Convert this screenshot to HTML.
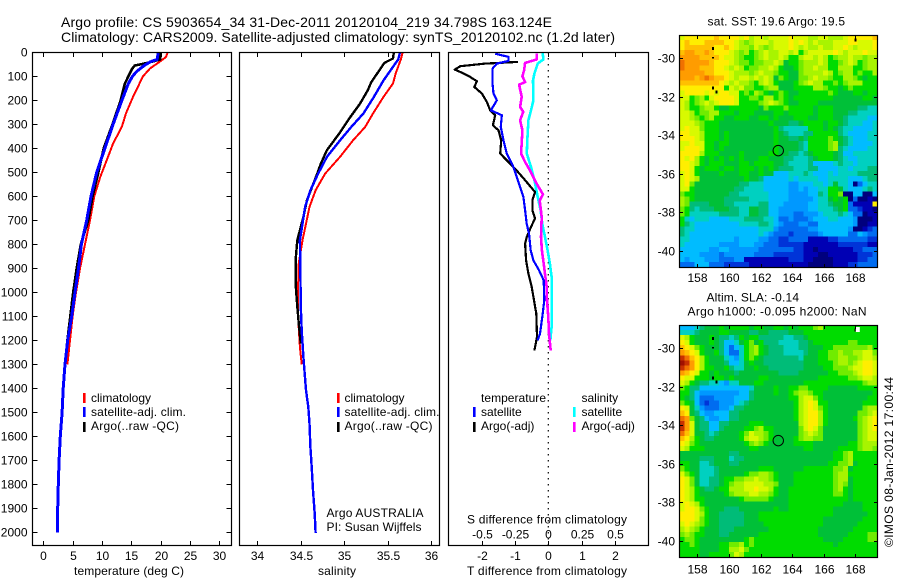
<!DOCTYPE html>
<html>
<head>
<meta charset="utf-8">
<title>Argo profile</title>
<style>
html,body{margin:0;padding:0;background:#fff;width:900px;height:580px;overflow:hidden}
svg{display:block}
text{font-family:"Liberation Sans",sans-serif;font-size:12px;fill:#000}
</style>
</head>
<body>
<svg id="chart" xmlns="http://www.w3.org/2000/svg" width="900" height="580" viewBox="0 0 900 580">
<rect width="900" height="580" fill="#fff"/>
<g id="maps"></g>
<g id="lines"></g>
<g id="axes"></g>
<text x="61" y="27" style="font-size:14px" textLength="491">Argo profile: CS 5903654_34 31-Dec-2011 20120104_219 34.798S 163.124E</text>
<text x="61" y="42" style="font-size:14px" textLength="554">Climatology: CARS2009. Satellite-adjusted climatology: synTS_20120102.nc (1.2d later)</text>
<text x="74" y="575" textLength="110">temperature (deg C)</text>
<text x="318" y="575" textLength="38">salinity</text>
<text x="467" y="575" textLength="160">T difference from climatology</text>
<text x="467" y="523.5" textLength="160">S difference from climatology</text>
<text x="91" y="402">climatology</text>
<text x="91" y="416" textLength="95">satellite-adj. clim.</text>
<text x="91" y="430" textLength="88">Argo(..raw -QC)</text>
<text x="344.5" y="402">climatology</text>
<text x="344.5" y="416" textLength="95">satellite-adj. clim.</text>
<text x="344.5" y="430" textLength="88">Argo(..raw -QC)</text>
<text x="326.5" y="517" textLength="97">Argo AUSTRALIA</text>
<text x="326.5" y="531" textLength="95">PI: Susan Wijffels</text>
<text x="481" y="402" textLength="65">temperature</text>
<text x="481" y="416">satellite</text>
<text x="481" y="430">Argo(-adj)</text>
<text x="581.5" y="402">salinity</text>
<text x="581.5" y="416">satellite</text>
<text x="581.5" y="430">Argo(-adj)</text>
<text x="707.5" y="25.5" textLength="137.5">sat. SST: 19.6 Argo: 19.5</text>
<text x="706.5" y="301.5" textLength="92.5">Altim. SLA: -0.14</text>
<text x="687.5" y="315.5" textLength="179">Argo h1000: -0.095 h2000: NaN</text>
<text transform="translate(893,547) rotate(-90)" textLength="170">©IMOS 08-Jan-2012 17:00:44</text>
</svg>
<script>
// ---- profile data (depth in m, temperature in deg C, salinity in PSU)
var depthClimT = [0,20,40,67,100,130,185,254,310,380,450,520,600,700,800,900,1000,1100,1200,1300];
var tempClim   = [21.2,20.9,19.8,18.2,17.0,16.4,15.3,14.1,13.4,11.9,10.8,9.7,8.7,7.96,7.1,6.25,5.57,5.0,4.55,4.1];
var depthSatT  = [0,30,40,55,80,100,130,200,300,400,500,600,700,800,900,1000,1100,1200,1300,1400,1500,1600,1700,1800,1900,2000];
var tempSat    = [19.6,19.4,18.2,17.2,15.9,15.2,14.5,13.4,11.9,10.5,9.1,8.13,7.4,6.5,6.0,5.4,4.84,4.16,3.7,3.4,3.2,2.9,2.7,2.55,2.45,2.4];
var depthArgoT = [0,30,45,55,70,100,130,200,300,400,500,600,700,800,900,1000,1100,1200,1225];
var tempArgo   = [19.9,19.9,17.6,15.6,15.1,14.5,13.9,13.2,11.8,10.3,9.4,8.4,7.67,6.4,5.7,5.1,4.6,4.1,4.0];

var depthClimS = [0,30,89,130,186,255,311,367,436,505,575,644,714,783,881,964,1061,1144,1228,1300];
var salClim    = [35.67,35.65,35.59,35.56,35.45,35.33,35.24,35.10,34.95,34.78,34.67,34.60,34.56,34.52,34.476,34.47,34.465,34.476,34.49,34.51];
var depthSatS  = [0,30,45,117,186,255,311,367,436,505,575,644,714,783,922,1061,1158,1270,1339,1408,1478,1547,1645,1728,1825,1922,2003];
var salSat     = [35.64,35.62,35.59,35.45,35.34,35.22,35.08,34.95,34.80,34.70,34.61,34.55,34.52,34.49,34.495,34.50,34.51,34.53,34.545,34.56,34.586,34.60,34.61,34.625,34.64,34.66,34.67];
var depthArgoS = [0,26,44,82,124,158,214,269,339,408,464,505,561,617,686,783,867,964,1061,1144,1214];
var salArgo    = [35.57,35.56,35.46,35.39,35.31,35.27,35.18,35.07,34.94,34.80,34.73,34.69,34.63,34.57,34.53,34.46,34.44,34.44,34.46,34.48,34.50];

var depthDiffArgoT = [40,47,58,72,85,103,121,144,172,207,242,262,304,325,367,422,450,485,533,582,617,658,692,728,770,797,867,922,978,1033,1089,1186,1214,1242];
var diffArgoT      = [-0.92,-1.9,-2.65,-2.82,-2.6,-2.35,-2.15,-2.23,-2.0,-1.85,-1.75,-1.6,-1.67,-1.5,-1.42,-1.45,-1.25,-1.0,-0.7,-0.4,-0.48,-0.48,-0.4,-0.52,-0.65,-0.7,-0.67,-0.6,-0.5,-0.43,-0.36,-0.34,-0.38,-0.42];
var depthDiffSatT  = [6,19,36,47,68,130,172,200,242,262,311,367,422,478,533,603,658,714,756,825,867,908,950,1033,1103,1172,1200];
var diffSatT       = [-1.6,-1.2,-1.2,-1.55,-1.68,-1.68,-1.65,-1.55,-1.73,-1.4,-1.43,-1.35,-1.25,-1.05,-0.92,-0.75,-0.7,-0.65,-0.58,-0.53,-0.45,-0.28,-0.14,-0.12,-0.18,-0.25,-0.32];
var depthDiffSatS  = [0,30,47,89,117,200,242,283,367,422,478,533,603,658,714,770,825,881,936,1033,1144,1200];
var diffSatS       = [-0.042,-0.038,-0.08,-0.105,-0.115,-0.112,-0.13,-0.15,-0.158,-0.162,-0.13,-0.105,-0.08,-0.058,-0.045,-0.025,-0.005,0.012,0.025,0.025,0.025,0.015];
var depthDiffArgoS = [6,30,44,75,100,124,135,185,228,248,283,325,422,457,492,547,592,617,686,770,825,881,978,1033,1103,1172,1242];
var diffArgoS      = [-0.088,-0.088,-0.175,-0.182,-0.195,-0.175,-0.22,-0.2,-0.212,-0.188,-0.212,-0.195,-0.205,-0.175,-0.138,-0.088,-0.04,-0.065,-0.05,-0.055,-0.048,-0.035,-0.012,-0.01,0,0.005,0.018];

// ---- axis tick values
var depthTicks = [0,100,200,300,400,500,600,700,800,900,1000,1100,1200,1300,1400,1500,1600,1700,1800,1900,2000];
var tempTicks  = [0,5,10,15,20,25,30];
var salTicks   = [34,34.5,35,35.5,36];
var diffTTicks = [-2,-1,0,1,2];
var diffSTicks = [-0.5,-0.25,0,0.25,0.5];
var lonTicks   = [158,160,162,164,166,168];
var latTicks   = [-30,-32,-34,-36,-38,-40];

// ---- map data: one colour-level character per cell (north to south, west to east)
var colorLevels = "0123456789abcdefghi";
var levelColors = ["#00007e","#0000b4","#0034d8","#006cf0","#0098ff","#00bcff","#00d0c0","#00bc78","#00c038","#00dc00","#70ec00","#a8f400","#d8fa00","#ffee00","#ffc000","#ff9c00","#f07000","#c83000","#a01000"];
var sstRows = [
"cddddddedd ddcdbccbcc ccdcccbbcc bbbcddddde",
"dedddeeeed dcbabcccbc ccdcdcbcbb bcccddcccd",
"deeeeeedde dcbbacbabc ccdcbcbbcb bccdcbcccd",
"effeefeddd cbab9abcbb ccbc9bcccc cdcbcccdcc",
"ffffeeeedc cba99abcbb cb99bccbcb 9abbcbbabb",
"gfffffeddd cbaa9aabbc b899abbbcb 99abcb9abb",
"gfffeeeddc bcb9aabbcb 9889abbcbb 99bbb99abb",
"fffffeeddd cbbbabcbba 9988abbbbc b9abb9a99b",
"fffefgfeed cbccbcbcb8 a988aabcbb a99bba9899",
"eeeeeeeedc bcbba9bcb9 8889abcbb9 9a9abbb999",
"ddddddddd9 cbcaa99abb 8889999bba 9989a99999",
"cddddcdcdd cc9a9ba989 a988999999 a988899899",
"cc9ab9cddd dc99aa9bb9 a989999999 9888888998",
"cb9abcbcdd dc9999abcb a988999988 8888888888",
"cb99abb988 9999998a99 9a99999899 9888887766",
"ccb9aabb99 9899988889 9899999899 9888776666",
"ccba9ab998 8999889989 8889998899 9887666655",
"cccba99988 8888888898 8877899998 9987666556",
"cdcca99988 8888888889 7666669998 9876655556",
"ddccb99989 8888888889 8766677999 9976555566",
"dddcb99989 8888888889 8877879999 a987655566",
"ccdcc99899 8888888889 8888769999 ab87655556",
"cdddc99898 8888888889 8888769999 ab76555566",
"ddddb99988 8898888899 8877678999 9875566666",
"dcdb989898 9898889988 8776667899 9876556666",
"ddcb989998 8899899998 8766667555 5676656666",
"ddc9899989 9899989898 7776667755 5566566677",
"cdc9888898 8899889885 5566676555 6566667777",
"cdcb888888 8889887555 5565666655 6666555677",
"cda8888888 8877666555 5544555665 6866503566",
"cc98888888 8776666555 5544545566 9986555676",
"a998888888 7766666655 5544445576 99a0055005",
"ba98888887 7777666655 5544444566 8989030010",
"ba77778887 7666667755 5444445566 788931111d",
"a976777888 7766887755 4444445566 6789332110",
"a966666677 7766887755 4443344456 6676533011",
"9656665555 6667777665 3343334555 6655540001",
"9765555555 5566667765 4333443355 5555540011",
"7665555555 5555556664 3333334455 5555400123",
"7655555555 5555556543 3323333345 5555335433",
"6655555555 5455554433 2233331111 2233333322",
"6555555544 4455544333 2222211111 1122222211",
"5555554455 4444443333 3332211011 1111122333",
"5555444434 4444433332 2222211100 1111112223",
"5455544433 3441111111 1122211000 0111112233",
"3335553332 2222111111 1111110000 0111223333"
];
var slaRows = [
"5556788898 9999899889 9898999ab9 9999999999",
"6667888899 8888778877 7788899999 9999999999",
"cb98889877 6798997777 7667789999 9999999999",
"dc98889875 5689a89777 6666778999 9999aa9999",
"edca988875 3569ab9877 7666778889 9aaaaaaab9",
"fedc988975 3369ab9877 7666678899 aabaabbcca",
"hgedb98886 5469a98777 7777688899 aabbaabccb",
"ihfdb98887 5568988777 7777788899 9abbabcddc",
"hgfdb99889 7668898877 7777788889 9aaabccddc",
"fedc998988 8788888888 7777888888 99aaabcddc",
"dcc9998998 9888889988 8888888899 9999aabccb",
"cb98776654 6688899888 8888899999 9999999abb",
"a977555555 5555688889 8899aa9999 8888889999",
"9975444444 4455788889 889abba998 8888888889",
"9875333444 4555788888 8899bcca98 8888888899",
"a985323344 4567888888 8889bcdc99 8888888999",
"dc86433344 5778888888 8889bcdca9 8888888abb",
"ed87544555 7788888888 8889bcddb9 888888aabc",
"gfa8754455 7788888888 8889bcddb9 888889abcd",
"hfc8775577 8888999888 8888bcddb9 888888abcd",
"hfc8775578 88899ab998 8888acdca8 888888abcd",
"gec8876788 889acbba98 8888abcba8 888888abcc",
"edb9877888 889bccba98 8889abbaa8 888888abcc",
"dca9888888 8889aba988 8889999888 888899abbb",
"cb99988888 8888998888 8888899888 889999abba",
"8888888888 7788888888 8888888888 899ab99999",
"8888777888 6778888888 8888888888 899ab99999",
"9988667888 7788888888 8888888888 99aab89999",
"a988666788 8888889998 8888899999 9aab899999",
"ca98666788 8889aabba9 8889999999 9abb999999",
"dca8667789 9aabbcbba9 8889999999 9abb899999",
"dca8667789 abbccccbba 8889999999 9aba899999",
"dcb9877899 bbbccdccb9 8899999999 9ab9899999",
"dcb9888889 abbbccbba9 8899999999 9aa9899999",
"dcb9988888 889aaaaa98 8899999999 9999899999",
"cdcb988888 8888888888 8899999999 9998888999",
"cddca98887 7788888889 8899999999 9888888999",
"dddcb98877 7778889999 9999999999 9888888899",
"dddca98877 7778889999 9999999998 8888888999",
"cdcba98877 7778888999 9999999998 8888889999",
"bcba988877 7888888899 9999999988 8888899999",
"aba9988877 8888889999 9999999988 88889999aa",
"9aa9888888 8889a99999 9999999998 88899999aa",
"99a9888899 aab9a99999 9999999999 9899999999",
"9999888899 bbca999999 9999999999 9999999999",
"9999889999 acb9999999 9999999999 9999999999"
];
var coastLon = [159.0,159.0,159.0,159.2,168.0];
var coastLat = [-29.5,-30.0,-31.55,-31.75,-29.05];
var floatLon = [163.124];
var floatLat = [-34.798];

// ---- axis functions
var NS = "http://www.w3.org/2000/svg";
function yDepth(d){ return 52.3 + d * 0.24; }
function xTemp(t){ return 43.3 + t * 5.867; }
function xSal(s){ return 257.3 + (s - 34) * 87; }
function xDiffT(t){ return 548.3 + t * 33.2; }
function xDiffS(s){ return 548.3 + s * 132.8; }
function xLon(lon){ return 697.3 + (lon - 158) * 15.8; }
function yLatTop(lat){ return 58.3 + (-30 - lat) * 19.24; }
function yLatBottom(lat){ return 348.3 + (-30 - lat) * 19.24; }

function mk(parent, tag, attrs, txt){
  var el = document.createElementNS(NS, tag);
  for (var k in attrs) el.setAttribute(k, attrs[k]);
  if (txt !== undefined) el.textContent = txt;
  parent.appendChild(el);
  return el;
}
var lineG = document.getElementById('lines');
var axisG = document.getElementById('axes');
var mapG = document.getElementById('maps');

function series(name, xs, ds, xf, color, w){
  var pts = [];
  for (var i = 0; i < xs.length; i++) pts.push(xf(xs[i]).toFixed(1) + ',' + yDepth(ds[i]).toFixed(1));
  var el = mk(lineG, 'polyline', {points: pts.join(' '), fill: 'none', stroke: color, 'stroke-width': w, 'shape-rendering': 'crispEdges', 'stroke-linejoin': 'round'});
  
  
}
function frame(name, x0, y0, x1, y1){
  var el = mk(axisG, 'rect', {x: x0, y: y0, width: x1 - x0, height: y1 - y0, fill: 'none', stroke: '#000', 'stroke-width': 1.2});
  
  
}
function tick(x0, y0, x1, y1){
  var el = mk(axisG, 'line', {x1: x0, y1: y0, x2: x1, y2: y1, stroke: '#000', 'stroke-width': 1});
  
  
}
function label(name, x, y, str, anchor){
  var el = mk(axisG, 'text', {x: x, y: y, 'text-anchor': anchor || 'middle'}, str);
  
  
}
function legendSeg(x, y, color){
  var el = mk(axisG, 'rect', {x: x - 1, y: y, width: 2.6, height: 10, fill: color});
  
  
}

// ---- profile series
series('temp-climatology-line', tempClim, depthClimT, xTemp, '#ff0000', 2);
series('temp-argo-line', tempArgo, depthArgoT, xTemp, '#000000', 2.6);
series('temp-satellite-line', tempSat, depthSatT, xTemp, '#0000ff', 3);
series('sal-climatology-line', salClim, depthClimS, xSal, '#ff0000', 2);
series('sal-argo-line', salArgo, depthArgoS, xSal, '#000000', 2.4);
series('sal-satellite-line', salSat, depthSatS, xSal, '#0000ff', 2.4);

// zero line drawn under difference series
var zero = mk(lineG, 'line', {x1: xDiffT(0), y1: 52, x2: xDiffT(0), y2: 545, stroke: '#000', 'stroke-width': 1.2, 'stroke-dasharray': '1.5 4.5'});



series('diff-salinity-satellite-line', diffSatS, depthDiffSatS, xDiffS, '#00ffff', 2.6);
series('diff-salinity-argo-line', diffArgoS, depthDiffArgoS, xDiffS, '#ff00ff', 2.6);
series('diff-temp-argo-line', diffArgoT, depthDiffArgoT, xDiffT, '#000000', 2.2);
series('diff-temp-satellite-line', diffSatT, depthDiffSatT, xDiffT, '#0000ff', 2.2);

// ---- frames
frame('temperature-panel-frame', 32.5, 52.5, 231.5, 545.5);
frame('salinity-panel-frame', 239.5, 52.5, 439.5, 545.5);
frame('difference-panel-frame', 448.5, 52.5, 648.5, 545.5);

// ---- panel ticks
depthTicks.forEach(function(d){
  var y = Math.round(yDepth(d)) + 0.5;
  if (d > 0) { tick(32.5, y, 37.5, y); tick(226.5, y, 231.5, y); }
  label('depth-tick-label', 27.5, y + 4, String(d), 'end');
});
tempTicks.forEach(function(t){
  var x = Math.round(xTemp(t)) + 0.5;
  tick(x, 52.5, x, 57); tick(x, 541, x, 545.5);
  label('temperature-tick-label', x, 560, String(t));
});
salTicks.forEach(function(s){
  var x = Math.round(xSal(s)) + 0.5;
  tick(x, 52.5, x, 57); tick(x, 541, x, 545.5);
  label('salinity-tick-label', x, 560, String(s));
});
diffTTicks.forEach(function(t){
  var x = Math.round(xDiffT(t)) + 0.5;
  tick(x, 52.5, x, 57); tick(x, 541, x, 545.5);
  label('t-difference-tick-label', x, 560, String(t));
});
diffSTicks.forEach(function(s){
  var x = Math.round(xDiffS(s)) + 0.5;
  label('s-difference-tick-label', x, 538.3, String(s));
});

// ---- legend swatches
legendSeg(84, 393, '#ff0000'); legendSeg(84, 407, '#0000ff'); legendSeg(84, 422, '#000000');
legendSeg(338, 393, '#ff0000'); legendSeg(338, 407, '#0000ff'); legendSeg(338, 422, '#000000');
legendSeg(474, 407, '#0000ff'); legendSeg(474, 422, '#000000');
legendSeg(574, 407, '#00ffff'); legendSeg(574, 422, '#ff00ff');

// ---- maps
function drawMap(name, rows, x0, y0, yLat, labelY){
  var cw = 198 / 40, ch = 232 / 46;
  var g = mk(mapG, 'g', {'shape-rendering': 'crispEdges'});
  
  
  rows.forEach(function(rowStr, r){
    var row = rowStr.replace(/ /g, '');
    for (var c = 0; c < 40; c++){
      var ch0 = row.charAt(Math.min(c, row.length - 1));
      var rect = mk(g, 'rect', {x: (x0 + c * cw).toFixed(2), y: (y0 + r * ch).toFixed(2), width: (cw + 0.3).toFixed(2), height: (ch + 0.3).toFixed(2), fill: levelColors[colorLevels.indexOf(ch0)]});
      
      
    }
  });
  coastLon.forEach(function(lon, i){
    var m = mk(g, 'rect', {x: xLon(lon) - 1, y: yLat(coastLat[i]) - 1.5, width: 2, height: i === 1 ? 1.5 : 3, fill: '#000'});
    
    
  });
  floatLon.forEach(function(lon, i){
    var cir = mk(axisG, 'circle', {cx: xLon(lon), cy: yLat(floatLat[i]), r: 5.2, fill: 'none', stroke: '#000', 'stroke-width': 1});
    
    
  });
  frame(name + '-frame', 679.5, y0 + 0.5, 877.5, y0 + 232.5);
  lonTicks.forEach(function(lon){
    var x = Math.round(xLon(lon)) + 0.5;
    tick(x, y0 + 0.5, x, y0 + 4); tick(x, y0 + 229, x, y0 + 232.5);
    label('longitude-tick-label', x, labelY, String(lon));
  });
  latTicks.forEach(function(lat){
    var y = Math.round(yLat(lat)) + 0.5;
    tick(679.5, y, 683, y); tick(874, y, 877.5, y);
    label('latitude-tick-label', 675, y + 4, String(lat), 'end');
  });
}
drawMap('sst-map', sstRows, 679.5, 35, yLatTop, 282);
drawMap('sla-map', slaRows, 679.5, 325, yLatBottom, 573.5);
var nan = mk(mapG, 'rect', {x: xLon(168) + 0.5, y: yLatBottom(-29.05) - 3, width: 4, height: 5, fill: '#fff'});


</script>
</body>
</html>
